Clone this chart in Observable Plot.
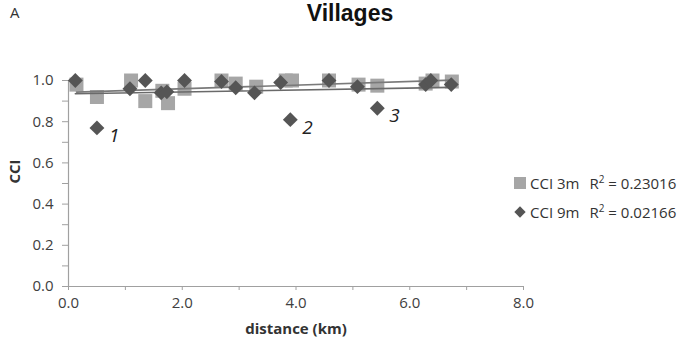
<!DOCTYPE html>
<html>
<head>
<meta charset="utf-8">
<script src="https://cdn.jsdelivr.net/npm/d3@7"></script>
<script src="https://cdn.jsdelivr.net/npm/@observablehq/plot@0.6"></script>
<style>
  html, body { margin: 0; padding: 0; background: #fff; }
  #wrap { position: relative; width: 679px; height: 345px; font-family: "Open Sans", sans-serif; color: #404040; overflow: hidden; }
  #wrap svg { position: absolute; left: 0; top: 0; }
  .abs { position: absolute; white-space: nowrap; }
  #panel { left: 10px; top: 2px; font-size: 15px; line-height: 20px; color: #333; }
  #title { left: 350px; top: 0px; transform: translateX(-50%); font-family: "Liberation Sans", Arial, sans-serif; font-size: 23px; line-height: 27px; font-weight: bold; color: #111; }
  .leg { font-size: 15px; color: #333; display: flex; align-items: center; }
  .sym { display: inline-block; width: 12px; height: 12px; margin-right: 4px; }
</style>
</head>
<body>
<div id="wrap"></div>
<script>
// Data
const distance3m = [0.14, 0.5, 1.1, 1.35, 1.65, 1.75, 2.04, 2.69, 2.94, 3.3, 3.82, 3.93, 4.58, 5.1, 5.43, 6.28, 6.4, 6.74];
const cci3m      = [0.98, 0.92, 1.0, 0.90, 0.95, 0.89, 0.96, 1.0, 0.985, 0.97, 1.0, 1.0, 1.0, 0.98, 0.975, 0.985, 1.0, 0.995];
const distance9m = [0.12, 0.5, 1.08, 1.35, 1.63, 1.73, 2.04, 2.69, 2.94, 3.27, 3.73, 3.9, 4.58, 5.08, 5.43, 6.28, 6.37, 6.73];
const cci9m      = [1.0, 0.77, 0.96, 1.0, 0.94, 0.945, 1.0, 0.995, 0.965, 0.94, 0.99, 0.81, 1.0, 0.97, 0.865, 0.98, 1.0, 0.98];
const pointLabels9m = ["", "1", "", "", "", "", "", "", "", "", "", "2", "", "", "3", "", "", ""];
const seriesNames = ["CCI 3m", "CCI 9m"];
const rSquared = ["0.23016", "0.02166"];
const xTicks = [0, 2, 4, 6, 8];
const xMinorTicks = [0, 1, 2, 3, 4, 5, 6, 7, 8];
const yTicks = [0, 0.2, 0.4, 0.6, 0.8, 1.0];
const yMinorTicks = [0, 0.1, 0.2, 0.3, 0.4, 0.5, 0.6, 0.7, 0.8, 0.9, 1.0];

const s3 = distance3m.map((d, i) => ({distance: d, cci: cci3m[i]}));
const s9 = distance9m.map((d, i) => ({distance: d, cci: cci9m[i], label: pointLabels9m[i]}));

const axisColor = "#a0a0a0";
const c3 = "#a6a6a6";
const c9 = "#555555";

const chart = Plot.plot({
  width: 679,
  height: 345,
  marginLeft: 68,
  marginRight: 156,
  marginTop: 80,
  marginBottom: 59,
  style: {fontFamily: "Open Sans, sans-serif", fontSize: "15px", color: "#404040", background: "transparent"},
  x: {domain: [0, 8], axis: null},
  y: {domain: [0, 1], axis: null},
  marks: [
    Plot.ruleY([0], {stroke: axisColor, strokeWidth: 1.2}),
    Plot.ruleX([0], {stroke: axisColor, strokeWidth: 1.2}),
    Plot.axisX({ticks: xMinorTicks, tickSize: 4, stroke: axisColor, text: null, label: null}),
    Plot.axisX({ticks: xTicks, tickSize: 0, tickPadding: 11, tickFormat: d3.format(".1f"), label: null, fill: "#404040"}),
    Plot.axisY({ticks: yMinorTicks, tickSize: 6, stroke: axisColor, text: null, label: null}),
    Plot.axisY({ticks: yTicks, tickSize: 0, tickPadding: 15, tickFormat: d3.format(".1f"), label: null, fill: "#404040"}),
    Plot.text(["CCI"], {frameAnchor: "left", dx: -53, rotate: -90, fontWeight: "bold", fontSize: 15, fill: "#333"}),
    Plot.text(["distance (km)"], {frameAnchor: "bottom", dy: 47, fontWeight: "bold", fontSize: 15, fill: "#333"}),
    Plot.dot(s3, {x: "distance", y: "cci", symbol: "square", r: 7.9, fill: c3, stroke: "none"}),
    Plot.linearRegressionY(s3, {x: "distance", y: "cci", ci: 0, stroke: "#7a7a7a", strokeWidth: 1.6}),
    Plot.linearRegressionY(s9, {x: "distance", y: "cci", ci: 0, stroke: "#6a6a6a", strokeWidth: 1.6}),
    Plot.dot(s9, {x: "distance", y: "cci", symbol: "diamond2", r: 6.7, fill: c9, stroke: "none"}),
    Plot.text(s9.filter(d => d.label), {x: "distance", y: "cci", text: "label", dx: 12, dy: 8, fontSize: 19, fontStyle: "italic", fill: "#222", textAnchor: "start"})
  ]
});

const wrap = document.getElementById("wrap");
wrap.appendChild(chart);

const panel = document.createElement("div");
panel.className = "abs"; panel.id = "panel"; panel.textContent = "A";
wrap.appendChild(panel);
const title = document.createElement("div");
title.className = "abs"; title.id = "title"; title.textContent = "Villages";
wrap.appendChild(title);

const legendTops = [173, 202];
seriesNames.forEach((name, i) => {
  const row = document.createElement("div");
  row.className = "abs leg";
  row.style.left = "514px";
  row.style.top = legendTops[i] + "px";
  const sym = document.createElement("span");
  sym.className = "sym";
  if (i === 0) {
    sym.style.background = c3;
  } else {
    sym.style.width = "8px"; sym.style.height = "8px";
    sym.style.background = c9;
    sym.style.transform = "rotate(45deg)";
    sym.style.margin = "0 6px 0 2px";
  }
  row.appendChild(sym);
  const lab = document.createElement("span");
  lab.textContent = name;
  lab.style.marginRight = "10px";
  row.appendChild(lab);
  const r2 = document.createElement("span");
  r2.innerHTML = "R<sup style='font-size:10px;vertical-align:6px;line-height:0'>2</sup> = " + rSquared[i];
  row.appendChild(r2);
  wrap.appendChild(row);
});
</script>
</body>
</html>
